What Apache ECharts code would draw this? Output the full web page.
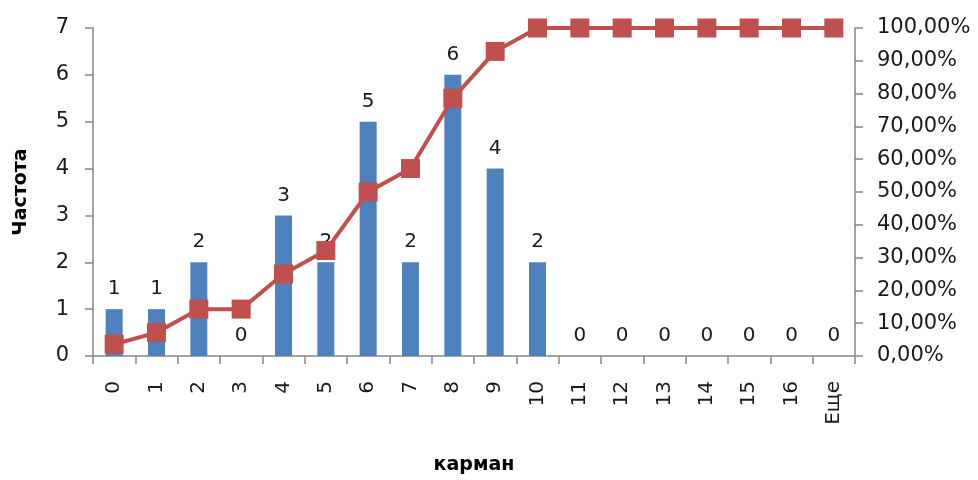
<!DOCTYPE html>
<html>
<head>
<meta charset="utf-8">
<script src="https://cdn.jsdelivr.net/npm/echarts@6/dist/echarts.min.js"></script>
<style>html,body{margin:0;padding:0;background:#fff}#c{width:978px;height:480px}</style>
</head>
<body>
<div id="c"></div>
<script>
const categories = ['0','1','2','3','4','5','6','7','8','9','10','11','12','13','14','15','16','Еще'];
const frequency = [1,1,2,0,3,2,5,2,6,4,2,0,0,0,0,0,0,0];
const cumulative = [0.0357,0.0714,0.1429,0.1429,0.25,0.3214,0.5,0.5714,0.7857,0.9286,1,1,1,1,1,1,1,1];

const font = '"DejaVu Sans", sans-serif';
const axisColor = '#868686';
const textColor = '#1a1a1a';
const chart = echarts.init(document.getElementById('c'));
chart.setOption({
  animation: false,
  textStyle: { fontFamily: font },
  grid: { left: 93, right: 123, top: 28, bottom: 123 },
  xAxis: {
    type: 'category',
    data: categories,
    name: 'карман',
    nameLocation: 'middle',
    nameGap: 100,
    nameTextStyle: { fontSize: 19, fontWeight: 'bold', color: '#000', fontFamily: font },
    axisLine: { lineStyle: { color: axisColor, width: 1.5 } },
    axisTick: { show: true, alignWithLabel: false, length: 8, lineStyle: { color: axisColor, width: 1.5 } },
    axisLabel: { rotate: 90, fontSize: 20, color: textColor, margin: 25, fontFamily: font }
  },
  yAxis: [
    {
      type: 'value', min: 0, max: 7, interval: 1,
      name: 'Частота',
      nameLocation: 'middle',
      nameGap: 62,
      nameTextStyle: { fontSize: 19, fontWeight: 'bold', color: '#000', fontFamily: font },
      axisLine: { show: true, lineStyle: { color: axisColor, width: 1.5 } },
      axisTick: { show: true, length: 8, lineStyle: { color: axisColor, width: 1.5 } },
      splitLine: { show: false },
      axisLabel: { fontSize: 21, color: textColor, margin: 24, fontFamily: font }
    },
    {
      type: 'value', min: 0, max: 1, interval: 0.1,
      position: 'right',
      axisLine: { show: true, lineStyle: { color: axisColor, width: 1.5 } },
      axisTick: { show: true, length: 8, lineStyle: { color: axisColor, width: 1.5 } },
      splitLine: { show: false },
      axisLabel: {
        fontSize: 21, color: textColor, margin: 22, fontFamily: font,
        formatter: v => (v * 100).toFixed(2).replace('.', ',') + '%'
      }
    }
  ],
  series: [
    {
      type: 'bar',
      data: frequency,
      barWidth: 17,
      itemStyle: { color: '#4F81BD' },
      label: { show: true, position: 'top', distance: 10, fontSize: 20, color: textColor, fontFamily: font },
      z: 2
    },
    {
      type: 'line',
      yAxisIndex: 1,
      data: cumulative,
      symbol: 'rect',
      symbolSize: 19,
      lineStyle: { color: '#C0504D', width: 4 },
      itemStyle: { color: '#C0504D' },
      z: 3
    }
  ]
});
</script>
</body>
</html>
